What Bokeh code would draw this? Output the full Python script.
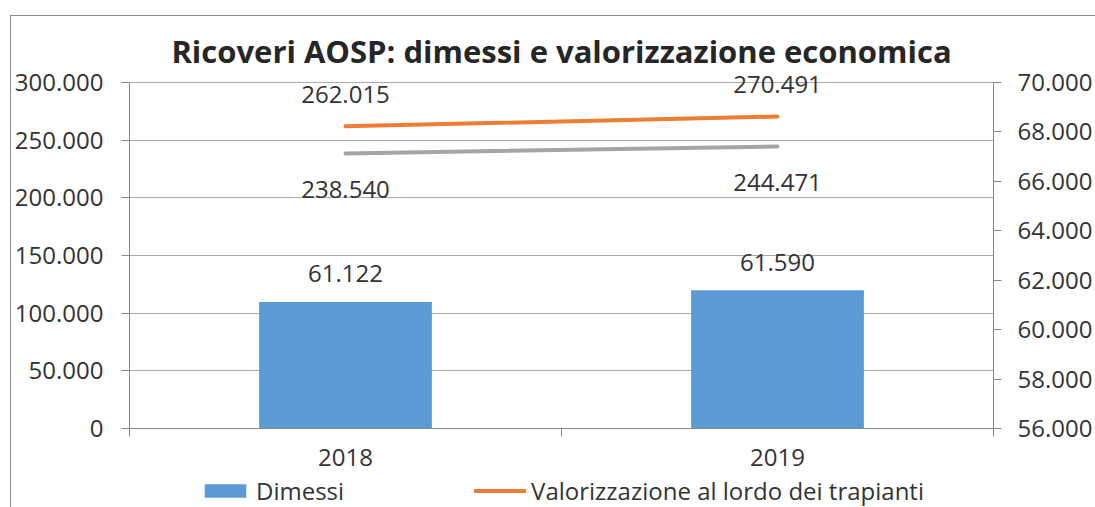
from bokeh.plotting import figure
from bokeh.layouts import column
from bokeh.models import (Range1d, LinearAxis, FixedTicker, CustomJSTickFormatter,
                          ColumnDataSource, Legend, LegendItem)
from bokeh.core.properties import value
from bokeh.embed import file_html
from bokeh.resources import INLINE

# ---- data ----
years = ["2018", "2019"]
dimessi = [61122, 61590]
lordo = [262015, 270491]
netto = [238540, 244471]
left_ticks = [0, 50000, 100000, 150000, 200000, 250000, 300000]
right_ticks = [56000, 58000, 60000, 62000, 64000, 66000, 68000, 70000]

def it_fmt(v):
    return "{:,}".format(v).replace(",", ".")

xs = [i + 0.5 for i in range(len(years))]
src = ColumnDataSource(dict(
    x=xs, dimessi=dimessi, lordo=lordo, netto=netto,
    dimessi_l=[it_fmt(v) for v in dimessi],
    lordo_l=[it_fmt(v) for v in lordo],
    netto_l=[it_fmt(v) for v in netto],
))

FONT = "Open Sans"
TXT = "#333333"
AX = "#868686"
BLUE, ORANGE, GRAY = "#5B9BD5", "#ED7D31", "#A5A5A5"

# frame geometry (px): axis span and extra headroom so top labels are not clipped
AXIS_PX = 346
HEAD_PX = 11
k = (AXIS_PX + HEAD_PX) / AXIS_PX
l0, l1_ = left_ticks[0], left_ticks[-1]
r0, r1 = right_ticks[0], right_ticks[-1]

W = 1084
p = figure(width=W, height=458, output_backend="svg", toolbar_location=None,
           x_range=Range1d(0, len(years)),
           y_range=Range1d(l0, l0 + (l1_ - l0) * k),
           min_border_left=115, min_border_right=102, min_border_top=55, min_border_bottom=46)
p.outline_line_color = None
p.extra_y_ranges = {"right": Range1d(r0, r0 + (r1 - r0) * k)}

p.title.text = "Ricoveri AOSP: dimessi e valorizzazione economica"
p.title.text_font = FONT
p.title.text_font_style = "bold"
p.title.text_font_size = "31px"
p.title.text_color = "#262626"
p.title.align = "center"
p.title.standoff = 0

fmt = CustomJSTickFormatter(code="return Math.round(tick).toString().replace(/\\B(?=(\\d{3})+(?!\\d))/g, '.');")

# bars on right axis
p.vbar(x="x", top="dimessi", bottom=r0, width=0.4, source=src,
       y_range_name="right", fill_color=BLUE, line_color=None)
p.line(x="x", y="lordo", source=src, line_color=ORANGE, line_width=4, line_cap="round")
p.line(x="x", y="netto", source=src, line_color=GRAY, line_width=4, line_cap="round")

common = dict(text_font=value(FONT), text_font_size="24px", text_color=TXT,
              text_align="center", text_baseline="middle")
p.text(x="x", y="dimessi", text="dimessi_l", source=src, y_range_name="right", y_offset=-28, **common)
p.text(x="x", y="lordo", text="lordo_l", source=src, y_offset=-32, **common)
p.text(x="x", y="netto", text="netto_l", source=src, y_offset=36, **common)

# axes
def style_axis(ax):
    ax.axis_line_color = AX
    ax.major_tick_line_color = AX
    ax.minor_tick_line_color = AX
    ax.major_label_text_font = FONT
    ax.major_label_text_font_size = "24px"
    ax.major_label_text_color = TXT

ly = p.yaxis[0]
ly.ticker = FixedTicker(ticks=left_ticks)
ly.formatter = fmt
ly.bounds = (l0, l1_)
style_axis(ly)
ly.minor_tick_line_color = None
ly.major_tick_in = 0
ly.major_tick_out = 8
ly.major_label_standoff = 18

ry = LinearAxis(y_range_name="right", ticker=FixedTicker(ticks=right_ticks), formatter=fmt,
                bounds=(r0, r1))
style_axis(ry)
ry.minor_tick_line_color = None
ry.major_tick_in = 0
ry.major_tick_out = 8
ry.major_label_standoff = 16
p.add_layout(ry, "right")

xa = p.xaxis[0]
xa.ticker = FixedTicker(ticks=xs, minor_ticks=list(range(len(years) + 1)))
xa.major_label_overrides = {x: y for x, y in zip(xs, years)}
style_axis(xa)
xa.major_tick_line_color = None
xa.major_tick_out = 0
xa.major_tick_in = 0
xa.minor_tick_in = 0
xa.minor_tick_out = 8
xa.major_label_standoff = 12

p.xgrid.grid_line_color = None
p.ygrid.ticker = FixedTicker(ticks=left_ticks)
p.ygrid.grid_line_color = "#ababab"
p.ygrid.grid_line_width = 1

# legend strip (separate figure; its sample renderers sit outside the view)
lg = figure(width=W, height=33, output_backend="svg", toolbar_location=None,
            x_axis_type=None, y_axis_type=None,
            x_range=Range1d(0, 1), y_range=Range1d(0, 1),
            min_border=0)
lg.outline_line_color = None
dummy = ColumnDataSource(dict(x=[-1], y=[-1]))
lb = lg.vbar(x="x", top="y", bottom=-2, width=0.4, source=dummy,
             fill_color=BLUE, line_color=None)
ll = lg.line(x="x", y="y", source=dummy, line_color=ORANGE, line_width=4, line_cap="round")
legend = Legend(items=[LegendItem(label="Dimessi", renderers=[lb]),
                       LegendItem(label="Valorizzazione al lordo dei trapianti", renderers=[ll])],
                orientation="horizontal", location=(70, 0))
legend.border_line_color = None
legend.background_fill_alpha = 0
legend.label_text_font = FONT
legend.label_text_font_size = "24px"
legend.label_text_color = TXT
legend.glyph_width = 52
legend.glyph_height = 17
legend.label_height = 33
legend.label_standoff = 5
legend.spacing = 130
legend.padding = 0
legend.margin = 0
lg.add_layout(legend, "center")

layout = column(p, lg, spacing=0, margin=(15, 0, 0, 10))
layout.styles = {"border-left": "1px solid #8c8c8c", "border-top": "1px solid #8c8c8c"}

open("out.html", "w").write(file_html(layout, INLINE))
